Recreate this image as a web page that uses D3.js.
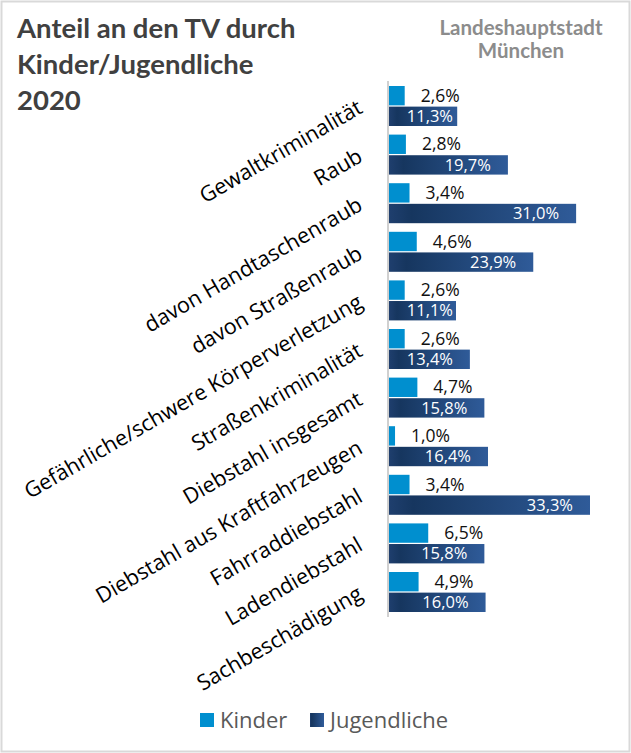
<!DOCTYPE html>
<html lang="de">
<head>
<meta charset="UTF-8">
<title>Anteil an den TV durch Kinder/Jugendliche 2020</title>
<script src="https://d3js.org/d3.v7.min.js"></script>
<style>
  body { margin: 0; background: #fff; }
  svg { display: block; }
</style>
</head>
<body>
<svg id="chart" width="631" height="753"></svg>
<script>
// categories and values (percent)
const categories = [
  "Gewaltkriminalität", "Raub", "davon Handtaschenraub", "davon Straßenraub",
  "Gefährliche/schwere Körperverletzung", "Straßenkriminalität", "Diebstahl insgesamt",
  "Diebstahl aus Kraftfahrzeugen", "Fahrraddiebstahl", "Ladendiebstahl", "Sachbeschädigung"
];
const kinder = [2.6, 2.8, 3.4, 4.6, 2.6, 2.6, 4.7, 1.0, 3.4, 6.5, 4.9];
const jugendliche = [11.3, 19.7, 31.0, 23.9, 11.1, 13.4, 15.8, 16.4, 33.3, 15.8, 16.0];
const seriesNames = ["Kinder", "Jugendliche"];
const titleLines = ["Anteil an den TV durch", "Kinder/Jugendliche", "2020"];
const sourceLines = ["Landeshauptstadt", "München"];

const svg = d3.select("#chart");
const W = 631, H = 753;

const fmt = v => d3.format(".1f")(v).replace(".", ",") + "%";

// frame
svg.append("rect")
  .attr("x", 1.5).attr("y", 1.5)
  .attr("width", W - 3).attr("height", H - 3)
  .attr("fill", "#fff").attr("stroke", "#d9d9d9").attr("stroke-width", 2);

// gradient for Jugendliche
const defs = svg.append("defs");
const grad = defs.append("linearGradient").attr("id", "jugGrad")
  .attr("x1", "0%").attr("x2", "100%").attr("y1", "0%").attr("y2", "0%");
grad.append("stop").attr("offset", "0%").attr("stop-color", "#1f3f6e");
grad.append("stop").attr("offset", "12%").attr("stop-color", "#16365f");
grad.append("stop").attr("offset", "100%").attr("stop-color", "#2f5b99");

const colors = { Kinder: "#008fcf", Jugendliche: "url(#jugGrad)" };

// title
svg.append("text")
  .attr("x", 17).attr("y", 38)
  .attr("font-family", "Lato, 'Open Sans', sans-serif")
  .attr("font-weight", "bold").attr("font-size", 27.5)
  .attr("fill", "#404040")
  .selectAll("tspan").data(titleLines).join("tspan")
  .attr("x", 17).attr("dy", (d, i) => i === 0 ? 0 : 36)
  .text(d => d);

svg.append("text")
  .attr("x", 521).attr("y", 35)
  .attr("text-anchor", "middle")
  .attr("font-family", "Lato, 'Open Sans', sans-serif")
  .attr("font-weight", "bold").attr("font-size", 20.5)
  .attr("fill", "#8c8c8c")
  .selectAll("tspan").data(sourceLines).join("tspan")
  .attr("x", 521).attr("dy", (d, i) => i === 0 ? 0 : 23)
  .text(d => d);

// scales
const x0 = 389;
const x = d3.scaleLinear().domain([0, 33.3]).range([x0, 590]);
const y = d3.scaleBand().domain(categories)
  .range([81.7, 616.3]).paddingInner(0.177).paddingOuter(0.0885);
const ySub = d3.scaleBand().domain(seriesNames)
  .range([0, y.bandwidth()]).paddingInner(0.06);

const rows = categories.map((c, i) => ({ cat: c, Kinder: kinder[i], Jugendliche: jugendliche[i] }));

// axis line
svg.append("line")
  .attr("x1", 388).attr("x2", 388)
  .attr("y1", 81).attr("y2", 617)
  .attr("stroke", "#d0d0d0").attr("stroke-width", 2);

const g = svg.append("g").selectAll("g").data(rows).join("g")
  .attr("transform", d => `translate(0,${y(d.cat)})`);

g.selectAll("rect").data(d => seriesNames.map(s => ({ s, v: d[s] }))).join("rect")
  .attr("x", x0)
  .attr("y", d => ySub(d.s))
  .attr("width", d => x(d.v) - x0)
  .attr("height", ySub.bandwidth())
  .attr("fill", d => colors[d.s]);

// Kinder labels (outside)
g.append("text")
  .attr("x", d => x(d.Kinder) + 16)
  .attr("y", ySub("Kinder") + ySub.bandwidth() / 2)
  .attr("dy", "0.35em")
  .attr("font-family", "'Open Sans', sans-serif").attr("font-size", 17.5)
  .attr("fill", "#111")
  .text(d => fmt(d.Kinder));

// Jugendliche labels (inside end)
g.append("text")
  .attr("x", d => Math.max(x(d.Jugendliche) - 17, x0 + 64))
  .attr("y", ySub("Jugendliche") + ySub.bandwidth() / 2)
  .attr("dy", "0.35em")
  .attr("text-anchor", "end")
  .attr("font-family", "'Open Sans', sans-serif").attr("font-size", 16.5)
  .attr("fill", "#fff")
  .text(d => fmt(d.Jugendliche));

// category labels, rotated
svg.append("g").selectAll("text").data(categories).join("text")
  .attr("transform", d => `translate(364,${y(d) + y.bandwidth() / 2 + 6}) rotate(-30)`)
  .attr("text-anchor", "end")
  .attr("font-family", "'Open Sans', sans-serif").attr("font-size", 21.5)
  .attr("fill", "#000")
  .text(d => d);

// legend
const legend = svg.append("g").attr("transform", "translate(0,720)");
const legItems = [{ s: "Kinder", x: 200 }, { s: "Jugendliche", x: 310 }];
legItems.forEach(it => {
  legend.append("rect").attr("x", it.x).attr("y", -7).attr("width", 14).attr("height", 14)
    .attr("fill", colors[it.s]);
  legend.append("text").attr("x", it.x + 20).attr("y", 0).attr("dy", "0.35em")
    .attr("font-family", "'Open Sans', sans-serif").attr("font-size", 22)
    .attr("fill", "#595959").text(it.s);
});
</script>
</body>
</html>
